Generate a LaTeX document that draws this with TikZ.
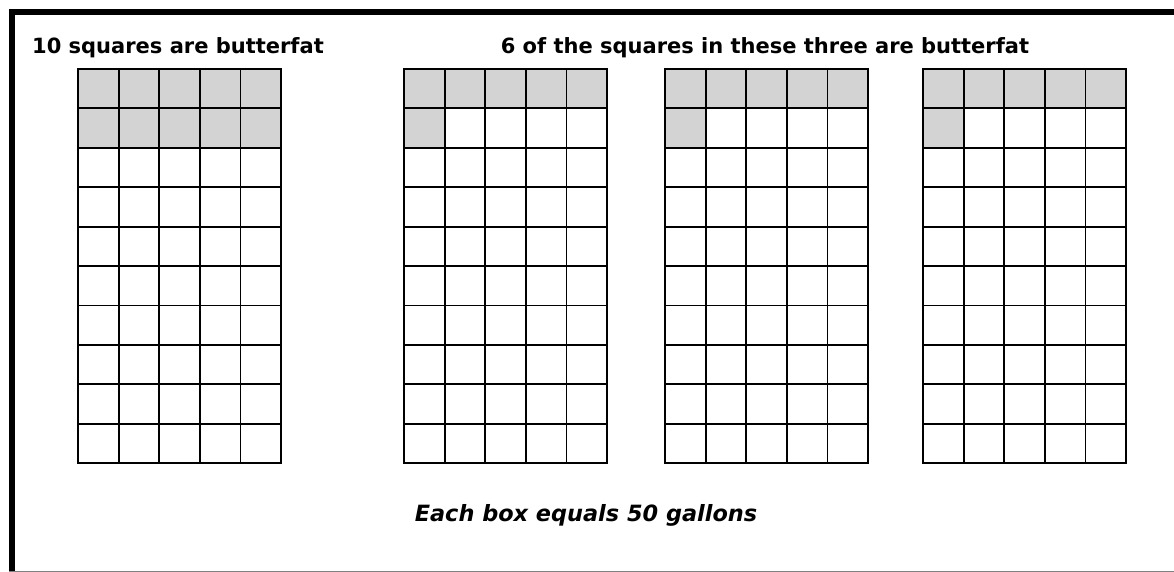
\documentclass[tikz,border=0pt]{standalone}
\usepackage{fontspec}
\setmainfont{DejaVu Sans}
\definecolor{fatgray}{RGB}{211,211,211}
\tikzset{
  butter/.style={fill=fatgray, draw=none},
  gridline/.style={draw=black, line width=1.8pt, line cap=rect},
  heading/.style={font=\bfseries\fontsize{21}{25}\selectfont, inner sep=0pt, anchor=base},
  note/.style={font=\bfseries\itshape\fontsize{22.4}{26}\selectfont, inner sep=0pt, anchor=base},
  frame/.style={line width=6pt, line join=miter}
}

\begin{document}
\begin{tikzpicture}[x=1pt, y=-1pt]
  \useasboundingbox (0,0) rectangle (1174,572);
  \fill[white] (0,0) rectangle (1174,572);

  % cell size of every grid
  \def\cw{40.6}
  \def\ch{39.4}

  % Helper macro: a 5 x 10 grid whose top left corner is at (#1,69)
  \def\milkgrid#1#2{%
    % #1 = x offset, #2 = shaded cells
    \begin{scope}[shift={(#1,69)}]
      #2
      \foreach \c in {0,...,5}
        \draw[gridline] (\c*\cw,0) -- (\c*\cw,10*\ch);
      \foreach \r in {0,...,10}
        \draw[gridline] (0,\r*\ch) -- (5*\cw,\r*\ch);
    \end{scope}
  }

  % Frame
  \draw[frame] (12,572) -- (12,12) -- (1174,12);
  \draw[gray, line width=1pt] (9,571.5) -- (1174,571.5);

  % Headings
  \node[heading] (tenfat) at (178,53.3) {10 squares are butterfat};
  \node[heading] (sixfat) at (765,53.3) {6 of the squares in these three are butterfat};

  % Grid A: two full rows of butterfat
  \milkgrid{78}{%
    \fill[butter] (0,0) rectangle (5*\cw,2*\ch);
  }

  % Grids B, C, D: one full row and one extra square
  \foreach \gx in {404,665,923}{
    \milkgrid{\gx}{%
      \fill[butter] (0,0) rectangle (5*\cw,\ch);
      \fill[butter] (0,\ch) rectangle (\cw,2*\ch);
    }
  }

  % Footnote
  \node[note] (gallons) at (586,521.5) {Each box equals 50 gallons};

\end{tikzpicture}
\end{document}
